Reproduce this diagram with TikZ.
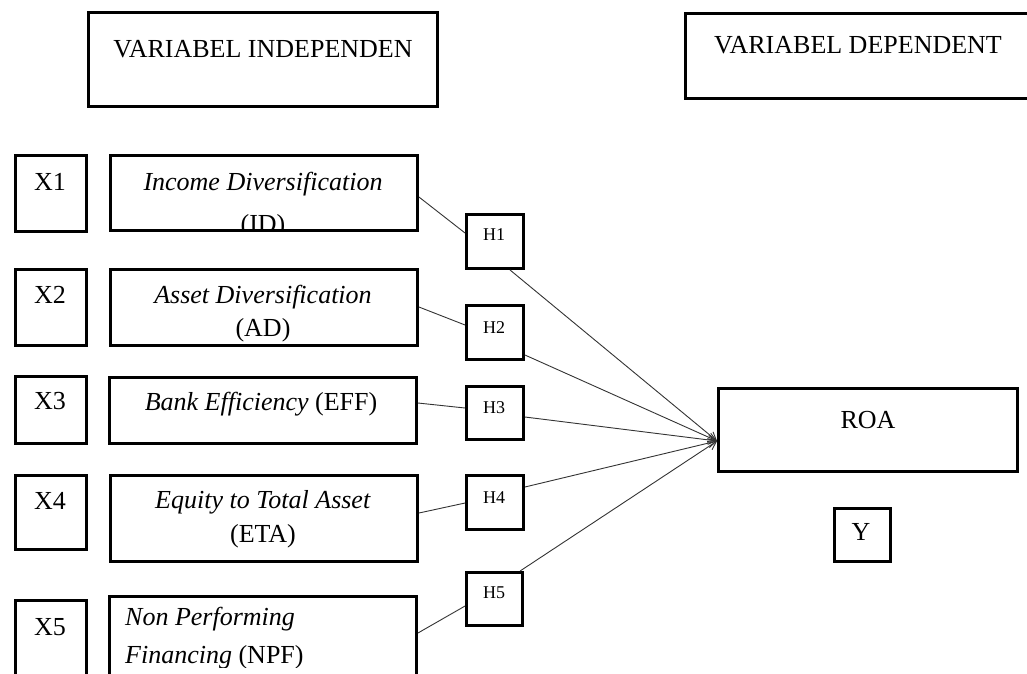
\documentclass[tikz,border=0pt]{standalone}
\usepackage{fontspec}
\setmainfont{Liberation Serif}
\usetikzlibrary{arrows.meta,fit}
\begin{document}
\begin{tikzpicture}[x=1pt,y=-1pt,
  box/.style={draw, line width=2.9pt, inner sep=0pt},
  conn/.style={line width=0.9pt, draw=black!80},
  arr/.style={conn, -{Straight Barb[length=8pt,width=9pt]}},
  big/.style={font=\fontsize{26}{31}\selectfont, inner sep=0pt, anchor=base},
  small/.style={font=\fontsize{18}{22}\selectfont, inner sep=0pt, anchor=base}]
\useasboundingbox (0,0) rectangle (1027,673);
\clip (0,0) rectangle (1027,673);
% header boxes
\node[box, fit={(88.5,12.5) (437.5,106.5)}] (indep) {};
\node[box, fit={(685.5,13.5) (1040,98.5)}] (dep) {};
\node[big] (indeptxt) at (263,57) {VARIABEL INDEPENDEN};
\node[big] (deptxt) at (858,53) {VARIABEL DEPENDENT};
% X boxes
\node[box, fit={(15.5,155.5) (86.5,231.5)}] (X1) {};
\node[box, fit={(15.5,269.5) (86.5,345.5)}] (X2) {};
\node[box, fit={(15.5,376.5) (86.5,443.5)}] (X3) {};
\node[box, fit={(15.5,475.5) (86.5,549.5)}] (X4) {};
\node[box, fit={(15.5,600.5) (86.5,690)}] (X5) {};
\node[big] (x1t) at (50,190) {X1};
\node[big] (x2t) at (50,303) {X2};
\node[big] (x3t) at (50,409) {X3};
\node[big] (x4t) at (50,509) {X4};
\node[big] (x5t) at (50,635) {X5};
% variable boxes
\node[box, fit={(110.5,155.5) (417.5,230.5)}] (L1) {};
\node[box, fit={(110.5,269.5) (417.5,345.5)}] (L2) {};
\node[box, fit={(109.5,377.5) (416.5,443.5)}] (L3) {};
\node[box, fit={(110.5,475.5) (417.5,561.5)}] (L4) {};
\node[box, fit={(109.5,596.5) (416.5,690)}] (L5) {};
\begin{scope}
  \clip (112,157) rectangle (416,229.5);
  \node[big] (l1a) at (263,190) {\textit{Income Diversification}};
  \node[big] (l1b) at (263,232) {(ID)};
\end{scope}
\node[big] (l2a) at (263,303) {\textit{Asset Diversification}};
\node[big] (l2b) at (263,336) {(AD)};
\node[big] (l3a) at (261,410) {\textit{Bank Efficiency} (EFF)};
\node[big] (l4a) at (263,508) {\textit{Equity to Total Asset}};
\node[big] (l4b) at (263,542) {(ETA)};
\begin{scope}
  \clip (111,598) rectangle (415,667);
  \node[big, anchor=base west] (l5a) at (125,625) {\textit{Non Performing}};
  \node[big, anchor=base west] (l5b) at (125,663) {\textit{Financing} (NPF)};
\end{scope}
% H boxes
\node[box, fit={(466.5,214.5) (523.5,268.5)}] (H1) {};
\node[box, fit={(466.5,305.5) (523.5,359.5)}] (H2) {};
\node[box, fit={(466.5,386.5) (523.5,439.5)}] (H3) {};
\node[box, fit={(466.5,475.5) (523.5,529.5)}] (H4) {};
\node[box, fit={(466.5,572.5) (522.5,625.5)}] (H5) {};
\node[small] (h1t) at (494,240) {H1};
\node[small] (h2t) at (494,333) {H2};
\node[small] (h3t) at (494,413) {H3};
\node[small] (h4t) at (494,503) {H4};
\node[small] (h5t) at (494,598) {H5};
% dependent
\node[box, fit={(718.5,388.5) (1017.5,471.5)}] (ROA) {};
\node[big] (roat) at (868,428) {ROA};
\node[box, fit={(834.5,508.5) (890.5,561.5)}] (Y) {};
\node[big] (yt) at (861,540) {Y};
% connectors
\coordinate (tip) at (ROA.west |- 0,441);
\draw[conn] (L1.east |- 0,197) -- (H1.west |- 0,233);
\draw[conn] (L2.east |- 0,307) -- (H2.west |- 0,325);
\draw[conn] (L3.east |- 0,403) -- (H3.west |- 0,408);
\draw[conn] (L4.east |- 0,513) -- (H4.west |- 0,503);
\draw[conn] (L5.east |- 0,633) -- (H5.west |- 0,606);
\draw[arr] (H1.south -| 510,0) -- (tip);
\draw[arr] (H2.east |- 0,355) -- (tip);
\draw[arr] (H3.east |- 0,417) -- (tip);
\draw[arr] (H4.east |- 0,487) -- (tip);
\draw[arr] (H5.north -| 520,0) -- (tip);
\end{tikzpicture}
\end{document}
